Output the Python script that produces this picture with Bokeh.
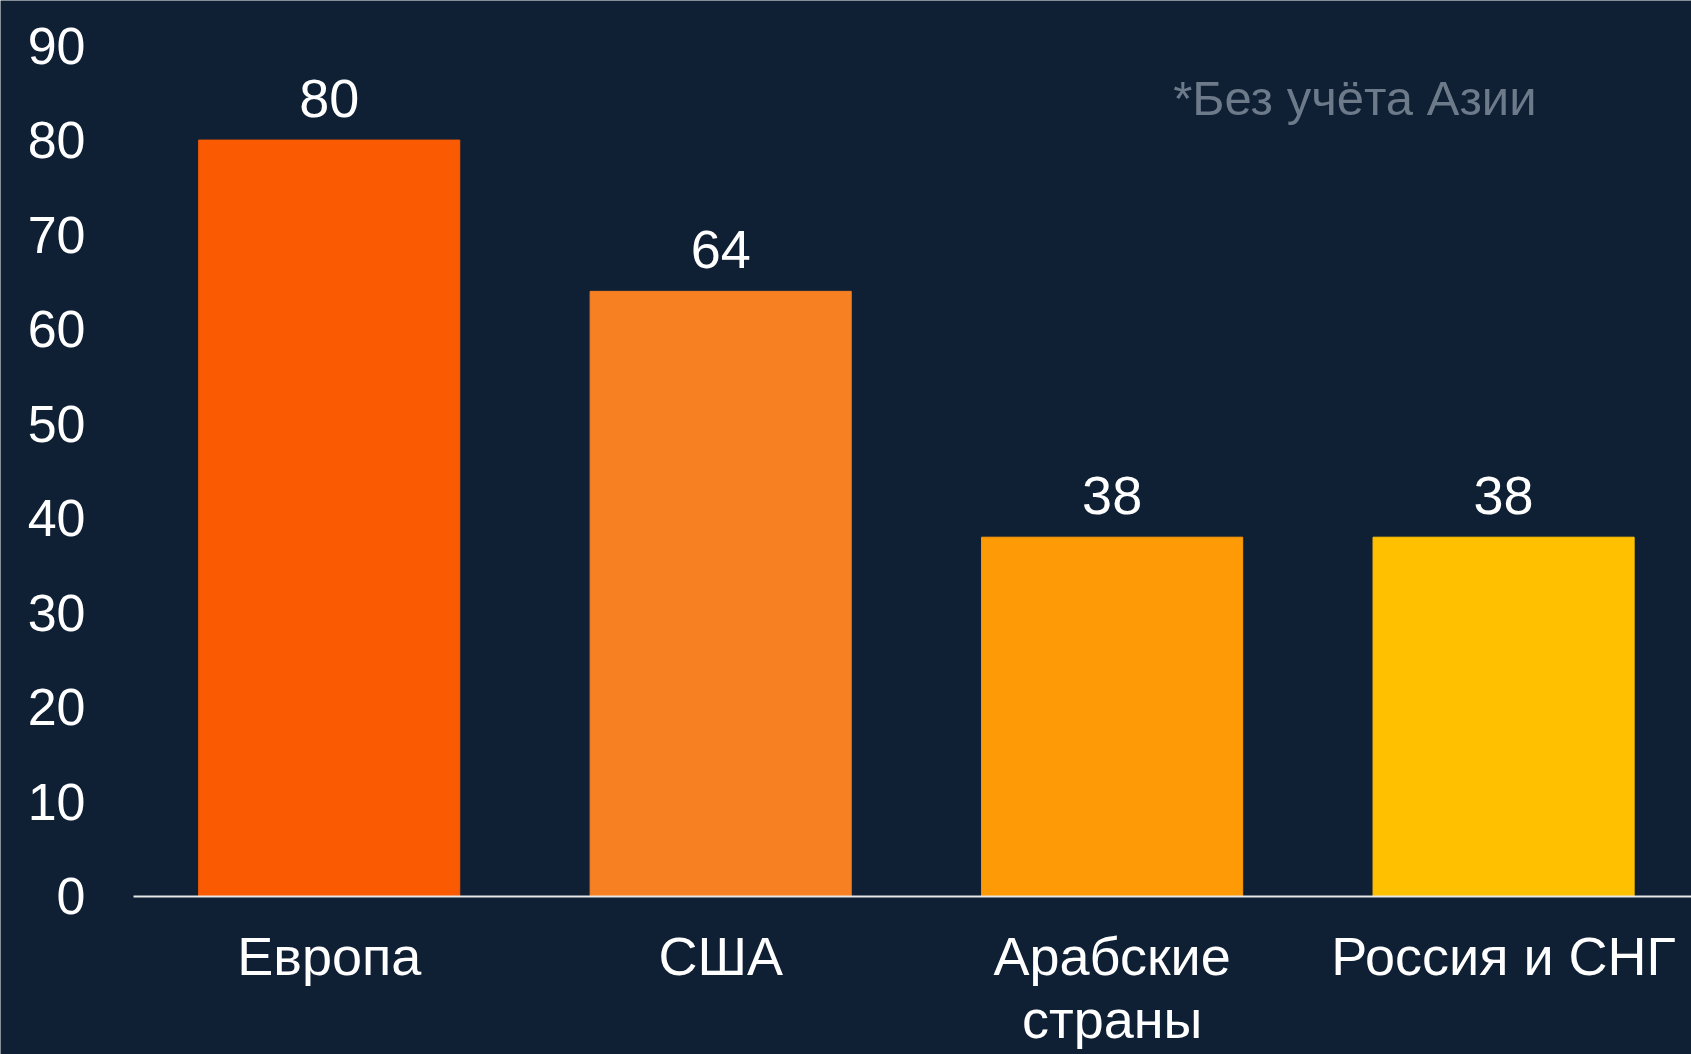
from bokeh.plotting import figure
from bokeh.models import Range1d, FixedTicker, Label, ColumnDataSource
from bokeh.core.properties import value
from bokeh.embed import file_html
from bokeh.resources import INLINE

categories = ["Европа", "США", "Арабские\nстраны", "Россия и СНГ"]
values = [80, 64, 38, 38]
colors = ["#fa5a02", "#f78023", "#fe9a05", "#ffc000"]
y_ticks = [0, 10, 20, 30, 40, 50, 60, 70, 80, 90]
note = "*Без учёта Азии"

BG = "#0f1f34"
FONT = "Liberation Sans"

xs = [i + 0.5 for i in range(len(categories))]
src = ColumnDataSource(dict(x=xs, top=values, color=colors,
                            label=[str(v) for v in values]))

# frame covers the whole canvas; axes are pinned at x=0 / y=0
p = figure(width=1691, height=1054, output_backend="svg", toolbar_location=None,
           x_range=Range1d(-0.3397, 3.98), y_range=Range1d(-16.71, 94.76),
           min_border_left=0, min_border_right=0, min_border_top=0,
           min_border_bottom=0)
p.background_fill_color = BG
p.border_fill_color = BG
p.outline_line_color = None
p.grid.visible = False

p.vbar(x="x", top="top", bottom=0, width=0.667, color="color", source=src)
p.text(x="x", y="top", text="label", source=src, text_color="white",
       text_font=value(FONT), text_font_size="54px", text_align="center",
       text_baseline="bottom", y_offset=-23)

p.add_layout(Label(x=2.656, y=84.4, text=note, text_color="#6d7a8a",
                   text_font=FONT, text_font_size="49px",
                   text_baseline="alphabetic", text_align="left"))

xa = p.xaxis[0]
xa.fixed_location = 0
xa.bounds = (0, 3.98)
xa.ticker = FixedTicker(ticks=xs)
xa.major_label_overrides = {x: c for x, c in zip(xs, categories)}
xa.major_tick_line_color = None
xa.minor_tick_line_color = None
xa.axis_line_color = "#e8e8e8"
xa.axis_line_width = 2
xa.major_label_text_color = "white"
xa.major_label_text_font = FONT
xa.major_label_text_font_size = "54px"
xa.major_label_text_line_height = 1.05
xa.major_label_standoff = 24

ya = p.yaxis[0]
ya.fixed_location = 0
ya.ticker = FixedTicker(ticks=y_ticks)
ya.axis_line_color = None
ya.major_tick_line_color = None
ya.minor_tick_line_color = None
ya.major_label_text_color = "white"
ya.major_label_text_font = FONT
ya.major_label_text_font_size = "52px"
ya.major_label_standoff = 42

open("out.html", "w").write(file_html(p, INLINE))
